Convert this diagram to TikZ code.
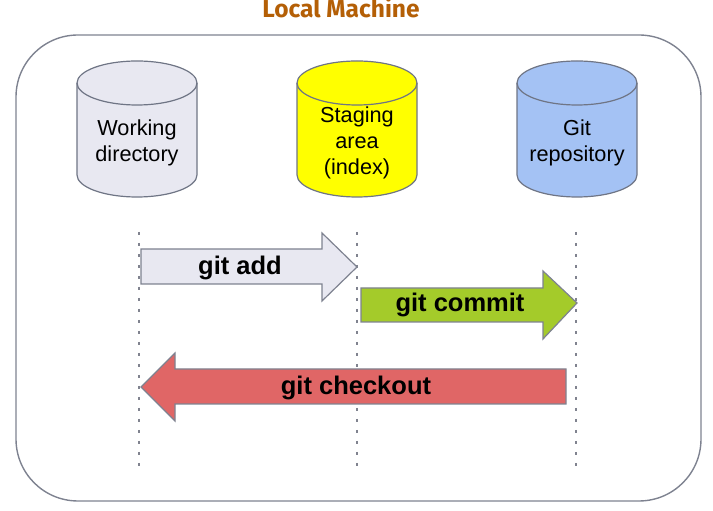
\documentclass[tikz,border=0pt]{standalone}
\usepackage{fontspec}
\setmainfont{Liberation Sans}
\newfontfamily\titlefont{Fira Sans}
\definecolor{framegray}{HTML}{7E8290}
\definecolor{cylgray}{HTML}{6F7585}
\definecolor{wdfill}{HTML}{E8E8F1}
\definecolor{stagefill}{HTML}{FFFF00}
\definecolor{repofill}{HTML}{A4C2F4}
\definecolor{addfill}{HTML}{E8E8F1}
\definecolor{commitfill}{HTML}{A4CB2A}
\definecolor{checkoutfill}{HTML}{E06666}
\definecolor{titlecol}{HTML}{B45F06}
\definecolor{dotgray}{HTML}{80838F}
\tikzset{
  cylstyle/.style={draw=cylgray, line width=1.2pt},
  blockarrow/.style={draw=framegray, line width=1.2pt, line join=miter},
  cyltext/.style={align=center, font=\fontsize{21.7}{25.8}\selectfont, inner sep=0pt},
  arrowtext/.style={font=\fontsize{25.5}{30}\selectfont\bfseries, inner sep=0pt},
  guide/.style={draw=dotgray, line width=2.6pt, dash pattern=on 2.6pt off 8.4pt},
}
\newcommand\drawcyl[2]{%
  \filldraw[cylstyle, fill=#2] (#1-60,428) -- (#1-60,336)
    arc[start angle=180, end angle=360, x radius=60pt, y radius=22pt]
    -- (#1+60,428)
    arc[start angle=0, end angle=180, x radius=60pt, y radius=22pt] -- cycle;
  \draw[cylstyle] (#1-60,428)
    arc[start angle=180, end angle=360, x radius=60pt, y radius=22pt];
}
\begin{document}
\begin{tikzpicture}[x=1pt, y=1pt]
\useasboundingbox (0,0) rectangle (713,511);
% frame
\draw[draw=framegray, line width=1.4pt, rounded corners=62pt] (16,10) rectangle (701,476);
\node[font=\titlefont\bfseries\fontsize{24.5}{28}\selectfont, text=titlecol, anchor=base] (title) at (341,493) {Local Machine};
% cylinders
\drawcyl{137}{wdfill}
\drawcyl{357}{stagefill}
\drawcyl{577}{repofill}
\node[cyltext] (wd) at (137,368) {Working\\directory};
\node[cyltext] (stage) at (357,368) {Staging\\area\\(index)};
\node[cyltext] (repo) at (577,368) {Git\\repository};
% guides
\coordinate (g1t) at (139,279); \coordinate (g1b) at (139,44);
\coordinate (g2t) at (357,279); \coordinate (g2b) at (357,44);
\coordinate (g3t) at (576,279); \coordinate (g3b) at (576,44);
\draw[guide] (g1t) -- (g1b);
\draw[guide] (g2t) -- (g2b);
\draw[guide] (g3t) -- (g3b);
% git add
\filldraw[blockarrow, fill=addfill] (141,262) -- (322,262) -- (322,278) -- (357,244) -- (322,210) -- (322,227) -- (141,227) -- cycle;
\node[arrowtext] (add) at (240,243) {git add};
% git commit
\filldraw[blockarrow, fill=commitfill] (361,223) -- (543,223) -- (543,240) -- (577,208) -- (543,172) -- (543,189) -- (361,189) -- cycle;
\node[arrowtext] (commit) at (460,206) {git commit};
% git checkout
\filldraw[blockarrow, fill=checkoutfill] (566,142) -- (175,142) -- (175,158) -- (141,124) -- (175,90) -- (175,107) -- (566,107) -- cycle;
\node[arrowtext] (checkout) at (356,123) {git checkout};
\end{tikzpicture}
\end{document}
